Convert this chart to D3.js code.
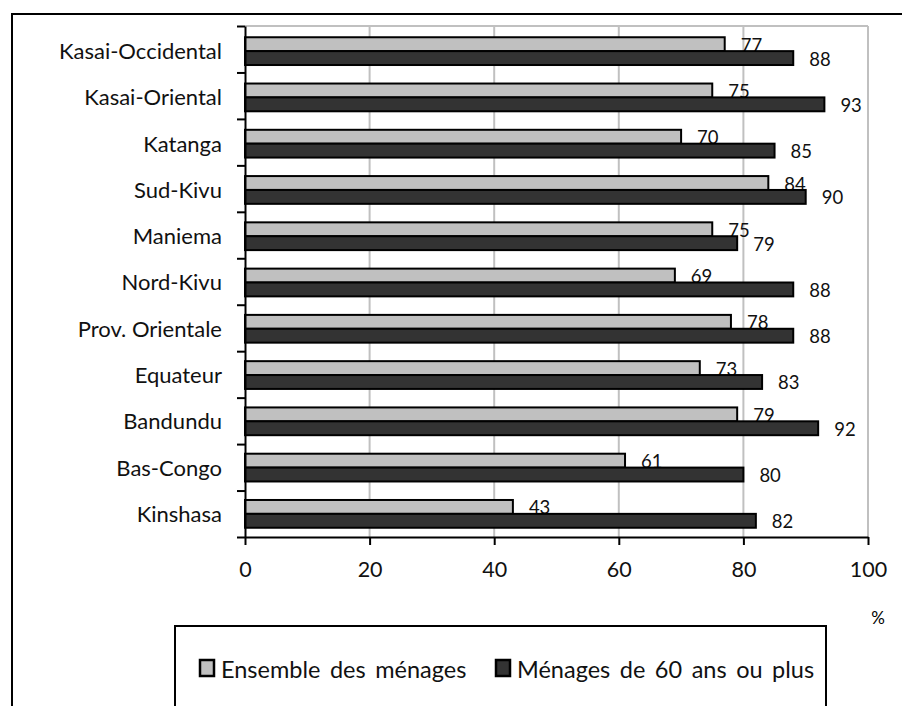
<!DOCTYPE html>
<html>
<head>
<meta charset="utf-8">
<script src="https://cdn.jsdelivr.net/npm/d3@7"></script>
<style>
  body { margin: 0; background: #fff; }
</style>
</head>
<body>
<div id="chart"></div>
<script>
const categories = ['Kasai-Occidental', 'Kasai-Oriental', 'Katanga', 'Sud-Kivu', 'Maniema',
    'Nord-Kivu', 'Prov. Orientale', 'Equateur', 'Bandundu', 'Bas-Congo', 'Kinshasa'];
const ensemble = [77, 75, 70, 84, 75, 69, 78, 73, 79, 61, 43];
const seniors = [88, 93, 85, 90, 79, 88, 88, 83, 92, 80, 82];
const xTicks = [0, 20, 40, 60, 80, 100];
const seriesNames = ['Ensemble des ménages', 'Ménages de 60 ans ou plus'];
const seriesColors = ['#c0c0c0', '#333333'];

const svg = d3.select('#chart').append('svg')
    .attr('width', 902)
    .attr('height', 706)
    .attr('font-family', 'Lato, sans-serif');

// Outer frame (cut off on right and bottom)
svg.append('path')
    .attr('d', 'M12,706V14H902')
    .attr('fill', 'none')
    .attr('stroke', 'black')
    .attr('stroke-width', 2);

const plotLeft = 245, plotRight = 868, plotTop = 26, plotBottom = 537;

const x = d3.scaleLinear().domain([0, 100]).range([plotLeft, plotRight]);
const y = d3.scaleBand().domain(categories).range([plotTop + 2, plotBottom])
    .paddingInner(0.4).paddingOuter(0.2);
const ySub = d3.scaleBand().domain([0, 1]).range([0, y.bandwidth()]);

// Gridlines and plot border
svg.append('g').selectAll('line')
    .data(xTicks.slice(1))
    .enter().append('line')
    .attr('x1', d => x(d))
    .attr('x2', d => x(d))
    .attr('y1', plotTop)
    .attr('y2', plotBottom)
    .attr('stroke', '#c0c0c0')
    .attr('stroke-width', 2);
svg.append('line')
    .attr('x1', plotLeft).attr('x2', plotRight)
    .attr('y1', plotTop).attr('y2', plotTop)
    .attr('stroke', '#c0c0c0')
    .attr('stroke-width', 2);

const rows = categories.map((c, i) => ({cat: c, values: [ensemble[i], seniors[i]]}));

// Bars and value labels, series by series so the dark bars cover the light labels
[0, 1].forEach(s => {
    const g = svg.append('g');
    g.selectAll('rect')
        .data(rows).enter()
        .append('rect')
        .attr('x', x(0))
        .attr('y', d => y(d.cat) + ySub(s))
        .attr('width', d => x(d.values[s]) - x(0))
        .attr('height', ySub.bandwidth())
        .attr('fill', seriesColors[s])
        .attr('stroke', 'black')
        .attr('stroke-width', 2);
    g.selectAll('text')
        .data(rows).enter()
        .append('text')
        .attr('x', d => x(d.values[s]) + 16)
        .attr('y', d => y(d.cat) + ySub(s) + ySub.bandwidth() / 2 + 7.5)
        .attr('font-size', 18.5)
        .attr('fill', '#111')
        .text(d => d.values[s]);
});

// Y axis: ticks at category boundaries
const yEdge = d3.scaleLinear().domain([0, categories.length]).range([plotTop, plotBottom]);
svg.append('g')
    .attr('transform', `translate(${plotLeft},0)`)
    .call(d3.axisLeft(yEdge).tickValues(d3.range(categories.length + 1))
        .tickFormat('').tickSize(8).tickSizeOuter(0))
    .call(g => g.selectAll('line, path').attr('stroke', 'black').attr('stroke-width', 2));

svg.append('g').selectAll('text')
    .data(categories).enter()
    .append('text')
    .attr('x', 222)
    .attr('y', d => y(d) + y.bandwidth() / 2)
    .attr('dy', '0.36em')
    .attr('text-anchor', 'end')
    .attr('font-size', 22)
    .attr('fill', '#111')
    .text(d => d);

// X axis
svg.append('g')
    .attr('transform', `translate(0,${plotBottom})`)
    .call(d3.axisBottom(x).tickValues(xTicks).tickSize(8).tickSizeOuter(0).tickPadding(17))
    .call(g => g.selectAll('line, path').attr('stroke', 'black').attr('stroke-width', 2))
    .call(g => g.selectAll('text').attr('font-size', 21.5).attr('font-family', 'Lato, sans-serif').attr('fill', '#111'));

svg.append('text')
    .attr('x', 878)
    .attr('y', 624)
    .attr('font-size', 17)
    .attr('text-anchor', 'middle')
    .text('%');

// Legend
svg.append('rect')
    .attr('x', 175)
    .attr('y', 626)
    .attr('width', 651)
    .attr('height', 120)
    .attr('fill', 'white')
    .attr('stroke', 'black')
    .attr('stroke-width', 2);

const legendX = [199, 495];
const legend = svg.append('g').selectAll('g')
    .data(seriesNames).enter()
    .append('g')
    .attr('transform', (d, i) => `translate(${legendX[i]},0)`);
legend.append('rect')
    .attr('x', 1)
    .attr('y', 660)
    .attr('width', 14)
    .attr('height', 16)
    .attr('fill', (d, i) => seriesColors[i])
    .attr('stroke', 'black')
    .attr('stroke-width', 2.5);
legend.append('text')
    .attr('x', 22)
    .attr('y', 678)
    .attr('font-size', 23.5)
    .attr('word-spacing', 3.5)
    .attr('fill', '#111')
    .text(d => d);
</script>
</body>
</html>
